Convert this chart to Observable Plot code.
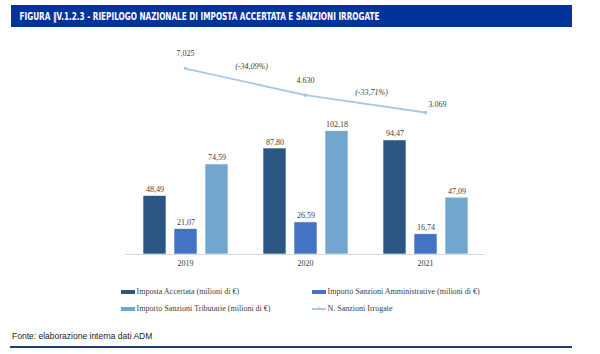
<!DOCTYPE html>
<html>
<head>
<meta charset="utf-8">
<script src="https://cdn.jsdelivr.net/npm/d3@7"></script>
<script src="https://cdn.jsdelivr.net/npm/@observablehq/plot@0.6"></script>
<style>
  html, body { margin: 0; padding: 0; background: #fff; }
  #root { position: relative; width: 600px; height: 354px; overflow: hidden; }
  .abs { position: absolute; }
  .leg { position: absolute; font-family: "Liberation Serif", serif; font-size: 8px; color: #404040; white-space: nowrap; line-height: 10px; }
  .sw { position: absolute; width: 14px; height: 4px; }
</style>
</head>
<body>
<div id="root">
  <svg class="abs" style="left:0;top:0" width="600" height="30">
    <rect x="11" y="5" width="561" height="22" fill="#00349A"></rect>
    <text id="title" x="19.5" y="19.5" fill="#ffffff" font-family="'Liberation Sans Narrow', 'DejaVu Sans Condensed', sans-serif" font-weight="bold" font-size="10" textLength="360" lengthAdjust="spacingAndGlyphs"></text>
  </svg>
  <div id="bars" class="abs" style="left:0;top:30px"></div>
  <div id="lines" class="abs" style="left:0;top:30px"></div>
  <div id="legend"></div>
  <div id="caption" class="abs" style="left:12px;top:331px;font-family:'Liberation Sans',Arial,sans-serif;font-size:8.5px;color:#1a1a1a;white-space:nowrap"></div>
  <div class="abs" style="left:10px;top:346px;width:562px;height:1.5px;background:#1F3A78"></div>
</div>
<script>
// ---- data ----
const titleText = "FIGURA \u2016V.1.2.3 - RIEPILOGO NAZIONALE DI IMPOSTA ACCERTATA E SANZIONI IRROGATE";
const captionText = "Fonte: elaborazione interna dati ADM";
const years = ["2019", "2020", "2021"];
const seriesNames = [
  "Imposta Accertata  (milioni di \u20ac)",
  "Importo Sanzioni Amministrative (milioni di \u20ac)",
  "Importo Sanzioni Tributarie (milioni di \u20ac)"
];
const lineName = "N. Sanzioni Irrogate";
const impostaAccertata = [48.49, 87.80, 94.47];
const sanzioniAmministrative = [21.07, 26.59, 16.74];
const sanzioniTributarie = [74.59, 102.18, 47.09];
const nSanzioni = [7025, 4630, 3069];
const nSanzioniLabels = ["7,025", "4.630", "3.069"];
const variazioni = ["(-34,09%)", "(-33,71%)"];

const barColors = ["#2C5783", "#4472C4", "#73A6CE"];
const lineColor = "#A8C8E8";
const textColor = "#3c3c3c";

document.getElementById("title").textContent = titleText;
document.getElementById("caption").textContent = captionText;

const seriesValues = [impostaAccertata, sanzioniAmministrative, sanzioniTributarie];
const barData = [];
years.forEach((yr, i) => seriesValues.forEach((vals, s) => barData.push({
  year: yr, series: seriesNames[s], value: vals[i], label: vals[i].toFixed(2).replace(".", ",")
})));
const lineData = years.map((yr, i) => ({year: yr, value: nSanzioni[i], label: nSanzioniLabels[i]}));
const varData = variazioni.map((v, i) => ({year: years[i], value: nSanzioni[i], label: v}));

const commonStyle = {fontFamily: "'Liberation Serif', serif", fontSize: "8px", color: textColor, background: "transparent", overflow: "visible"};

const barPlot = Plot.plot({
  width: 600, height: 240,
  marginLeft: 125, marginRight: 115, marginTop: 91.2, marginBottom: 16,
  style: commonStyle,
  fx: {domain: years, padding: 0, axis: "bottom", tickSize: 0, tickPadding: 6, label: null},
  x: {domain: seriesNames, paddingInner: 0.27, paddingOuter: 0.54, axis: null},
  y: {domain: [0, 110], axis: null},
  color: {domain: seriesNames, range: barColors},
  marks: [
    Plot.barY(barData, {fx: "year", x: "series", y: "value", fill: "series", stroke: "#ffffff", strokeWidth: 0.6}),
    Plot.ruleY([0], {stroke: "#d9d9d9", strokeWidth: 1}),
    Plot.text(barData, {fx: "year", x: "series", y: "value", text: "label", lineAnchor: "bottom", dy: -4, fill: textColor})
  ]
});
document.getElementById("bars").appendChild(barPlot);

const linePlot = Plot.plot({
  width: 600, height: 240,
  style: commonStyle,
  x: {type: "point", domain: years, range: [185, 425], padding: 0, axis: null},
  y: {domain: [0, 8000], range: [116.1, 27.2], axis: null},
  marks: [
    Plot.line(lineData, {x: "year", y: "value", stroke: lineColor, strokeWidth: 1.8}),
    Plot.dot(lineData, {x: "year", y: "value", r: 1.8, fill: lineColor, stroke: null}),
    Plot.text(lineData.slice(0, 2), {x: "year", y: "value", text: "label", dy: -15, fill: textColor}),
    Plot.text(lineData.slice(2), {x: "year", y: "value", text: "label", dx: 12, dy: -8, fill: textColor}),
    Plot.text(varData, {x: "year", y: "value", text: "label", dx: 66, dy: -2.5, fontStyle: "italic", fill: textColor})
  ]
});
document.getElementById("lines").appendChild(linePlot);

// legend (HTML)
const legend = document.getElementById("legend");
const legendItems = [
  {name: seriesNames[0], color: barColors[0], type: "bar", left: 121, top: 292},
  {name: seriesNames[1], color: barColors[1], type: "bar", left: 312, top: 292},
  {name: seriesNames[2], color: barColors[2], type: "bar", left: 121, top: 309},
  {name: lineName, color: lineColor, type: "line", left: 312, top: 309}
];
legendItems.forEach(it => {
  if (it.type === "bar") {
    const sw = document.createElement("div");
    sw.className = "sw";
    sw.style.left = it.left + "px";
    sw.style.top = (it.top - 2) + "px";
    sw.style.background = it.color;
    legend.appendChild(sw);
  } else {
    const sw = document.createElement("div");
    sw.className = "abs";
    sw.style.left = it.left + "px";
    sw.style.top = (it.top - 1) + "px";
    sw.style.width = "14px"; sw.style.height = "1.6px";
    sw.style.background = it.color;
    legend.appendChild(sw);
    const dot = document.createElement("div");
    dot.className = "abs";
    dot.style.left = (it.left + 5.5) + "px";
    dot.style.top = (it.top - 1.8) + "px";
    dot.style.width = "3.2px"; dot.style.height = "3.2px";
    dot.style.borderRadius = "50%";
    dot.style.background = it.color;
    legend.appendChild(dot);
  }
  const t = document.createElement("div");
  t.className = "leg";
  t.style.left = (it.left + 15.5) + "px";
  t.style.top = (it.top - 5.5) + "px";
  t.textContent = it.name;
  legend.appendChild(t);
});
</script>
</body>
</html>
